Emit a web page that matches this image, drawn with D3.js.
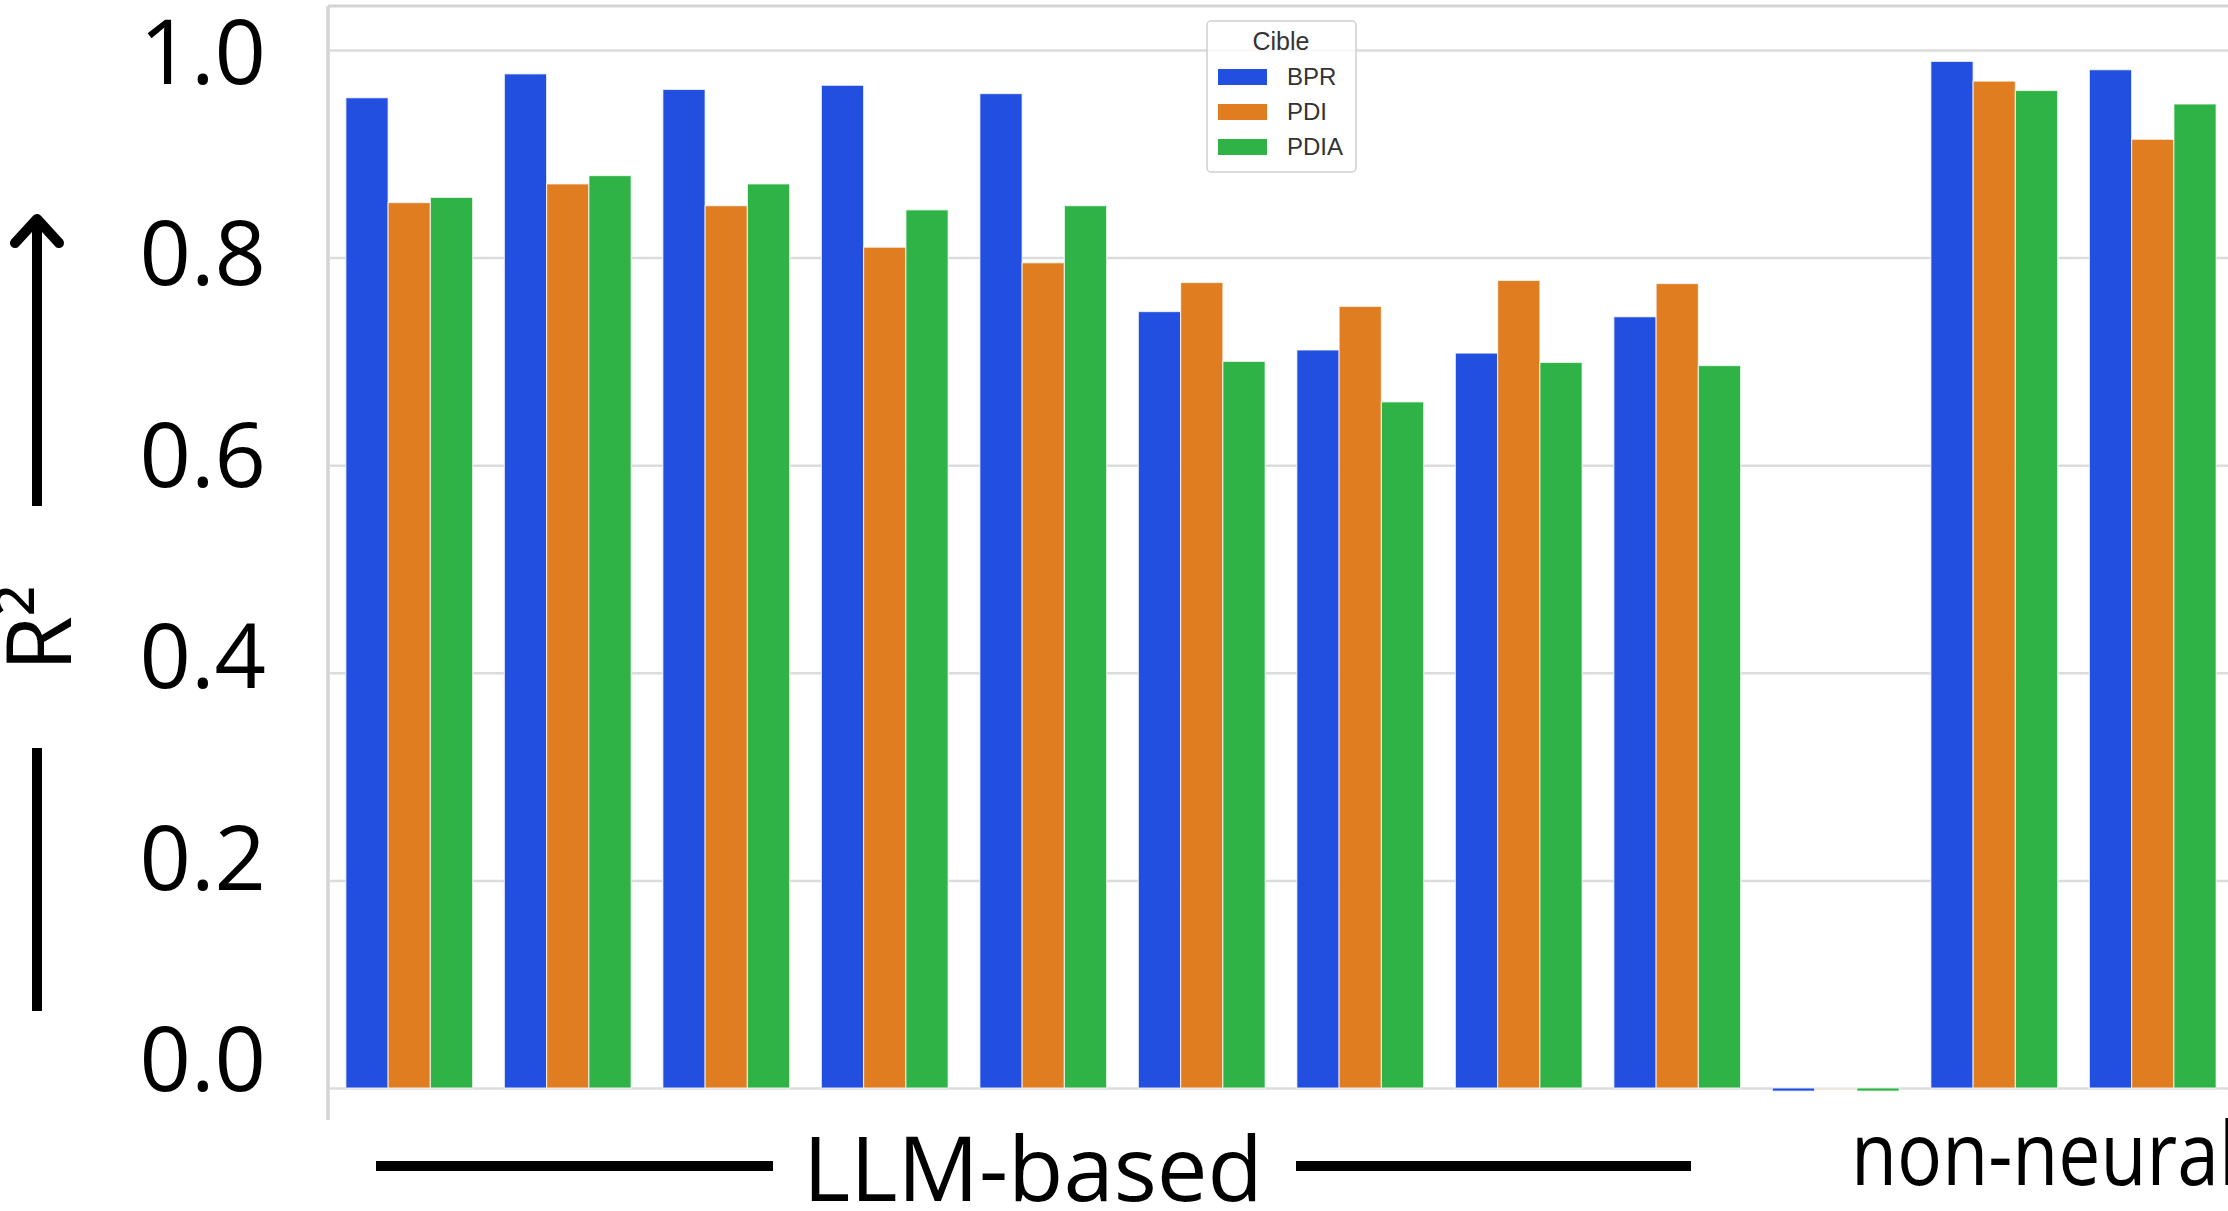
<!DOCTYPE html>
<html>
<head>
<meta charset="utf-8">
<script src="https://cdn.jsdelivr.net/npm/d3@7"></script>
<style>
  html, body { margin: 0; padding: 0; background: #fff; overflow: hidden; }
  svg { display: block; }
</style>
</head>
<body>
<svg id="chart" width="2228" height="1211"></svg>
<script>
// ---------------- data ----------------
const categories = ["LLM 1", "LLM 2", "LLM 3", "LLM 4", "LLM 5", "LLM 6", "LLM 7", "LLM 8", "LLM 9", "other", "non-neural 1", "non-neural 2"];
const seriesNames = ["BPR", "PDI", "PDIA"];
const bprValues  = [0.954, 0.977, 0.962, 0.966, 0.958, 0.748, 0.711, 0.708, 0.743, -0.003, 0.989, 0.981];
const pdiValues  = [0.853, 0.871, 0.850, 0.810, 0.795, 0.776, 0.753, 0.778, 0.775, -0.0005, 0.970, 0.914];
const pdiaValues = [0.858, 0.879, 0.871, 0.846, 0.850, 0.700, 0.661, 0.699, 0.696, -0.003, 0.961, 0.948];
const tickValues = [0, 0.2, 0.4, 0.6, 0.8, 1.0];
const tickLabels = ["0.0", "0.2", "0.4", "0.6", "0.8", "1.0"];
const legendTitle = "Cible";
const yTitle = "R²";
const groupLabels = ["LLM-based", "non-neural"];

const seriesValues = [bprValues, pdiValues, pdiaValues];
const colors = ["#224fdf", "#df7d20", "#30b346"];

// ---------------- layout ----------------
const svg = d3.select("#chart");
const plotLeft = 330, plotTop = 6, plotBottom = 1120;
const step = 158.5;
const plotRight = plotLeft + step * categories.length;

const x = d3.scaleBand().domain(categories).range([plotLeft, plotRight]).paddingInner(0).paddingOuter(0);
const groupW = x.bandwidth() * 0.8;
const xs = d3.scaleBand().domain(seriesNames).range([0, groupW]);
const y = d3.scaleLinear().domain([0, 1]).range([1088, 50]);
// overlaid tick labels (placed independently of the gridlines, as in the reference)
const yLab = d3.scaleLinear().domain([0, 1]).range([1059, 51.5]);

// gridlines
const grid = svg.append("g")
  .attr("transform", `translate(${plotLeft},0)`)
  .call(d3.axisLeft(y).tickValues(tickValues).tickSize(-(plotRight - plotLeft)).tickFormat(""));
grid.select(".domain").remove();
grid.selectAll(".tick line").attr("stroke", "#dcdcdc").attr("stroke-width", 2.5);

// spines
svg.append("line").attr("x1", plotLeft - 2).attr("x2", 2228).attr("y1", plotTop).attr("y2", plotTop)
  .attr("stroke", "#d4d4d4").attr("stroke-width", 3);
svg.append("line").attr("x1", plotLeft - 2).attr("x2", plotLeft - 2).attr("y1", plotTop).attr("y2", plotBottom)
  .attr("stroke", "#d4d4d4").attr("stroke-width", 3.5);

// bars
const rows = [];
categories.forEach((c, i) => seriesNames.forEach((s, j) => rows.push({ c, s, j, v: seriesValues[j][i] })));
svg.append("g").selectAll("rect").data(rows).join("rect")
  .attr("x", d => x(d.c) + x.bandwidth() * 0.1 + xs(d.s))
  .attr("width", xs.bandwidth())
  .attr("y", d => Math.min(y(d.v), y(0)))
  .attr("height", d => Math.abs(y(d.v) - y(0)))
  .attr("fill", d => colors[d.j])
  .attr("stroke", "#ffffff").attr("stroke-opacity", 0.7).attr("stroke-width", 1.2);

// legend
const lg = svg.append("g");
lg.append("rect").attr("x", 1207).attr("y", 21).attr("width", 149).attr("height", 151)
  .attr("rx", 4).attr("fill", "#fff").attr("fill-opacity", 0.8)
  .attr("stroke", "#d0d0d0").attr("stroke-width", 1.5);
lg.append("text").attr("x", 1281).attr("y", 50).attr("text-anchor", "middle")
  .attr("font-family", "Liberation Sans, Arial, sans-serif").attr("font-size", 25).attr("fill", "#333")
  .text(legendTitle);
seriesNames.forEach((s, j) => {
  lg.append("rect").attr("x", 1218).attr("y", 69 + j * 35).attr("width", 49).attr("height", 16)
    .attr("fill", colors[j]);
  lg.append("text").attr("x", 1287).attr("y", 85 + j * 35)
    .attr("font-family", "Liberation Sans, Arial, sans-serif").attr("font-size", 24).attr("fill", "#333")
    .text(s);
});

// big tick labels
const bigFont = "'Open Sans', 'Noto Sans', sans-serif";
svg.append("g").selectAll("text").data(tickValues).join("text")
  .attr("x", 266).attr("y", d => yLab(d)).attr("dy", "0.357em")
  .attr("text-anchor", "end").attr("font-family", bigFont).attr("font-size", 90).attr("fill", "#000")
  .text((d, i) => tickLabels[i]);

// y title with arrow
svg.append("text").attr("transform", "translate(71,628) rotate(-90)")
  .attr("text-anchor", "middle").attr("font-family", bigFont).attr("font-size", 90).attr("fill", "#000")
  .text(yTitle);
const arrow = svg.append("g").attr("stroke", "#000").attr("stroke-width", 10).attr("fill", "none");
arrow.append("line").attr("x1", 37).attr("x2", 37).attr("y1", 506).attr("y2", 220).attr("stroke-linecap", "butt");
arrow.append("path").attr("d", "M15,243 L37,219 L59,243").attr("stroke-linecap", "round").attr("stroke-linejoin", "round");
arrow.append("line").attr("x1", 37).attr("x2", 37).attr("y1", 748).attr("y2", 1011);

// group labels
svg.append("line").attr("x1", 376).attr("x2", 773).attr("y1", 1166).attr("y2", 1166).attr("stroke", "#000").attr("stroke-width", 10);
svg.append("line").attr("x1", 1296).attr("x2", 1691).attr("y1", 1166).attr("y2", 1166).attr("stroke", "#000").attr("stroke-width", 10);
svg.append("text").attr("x", 1033).attr("y", 1201).attr("text-anchor", "middle")
  .attr("font-family", bigFont).attr("font-size", 90.5).attr("fill", "#000").text(groupLabels[0]);
svg.append("text").attr("transform", "translate(1851,1185) scale(0.853,1)").attr("text-anchor", "start")
  .attr("font-family", bigFont).attr("font-size", 88).attr("fill", "#000").text(groupLabels[1]);
</script>
</body>
</html>
